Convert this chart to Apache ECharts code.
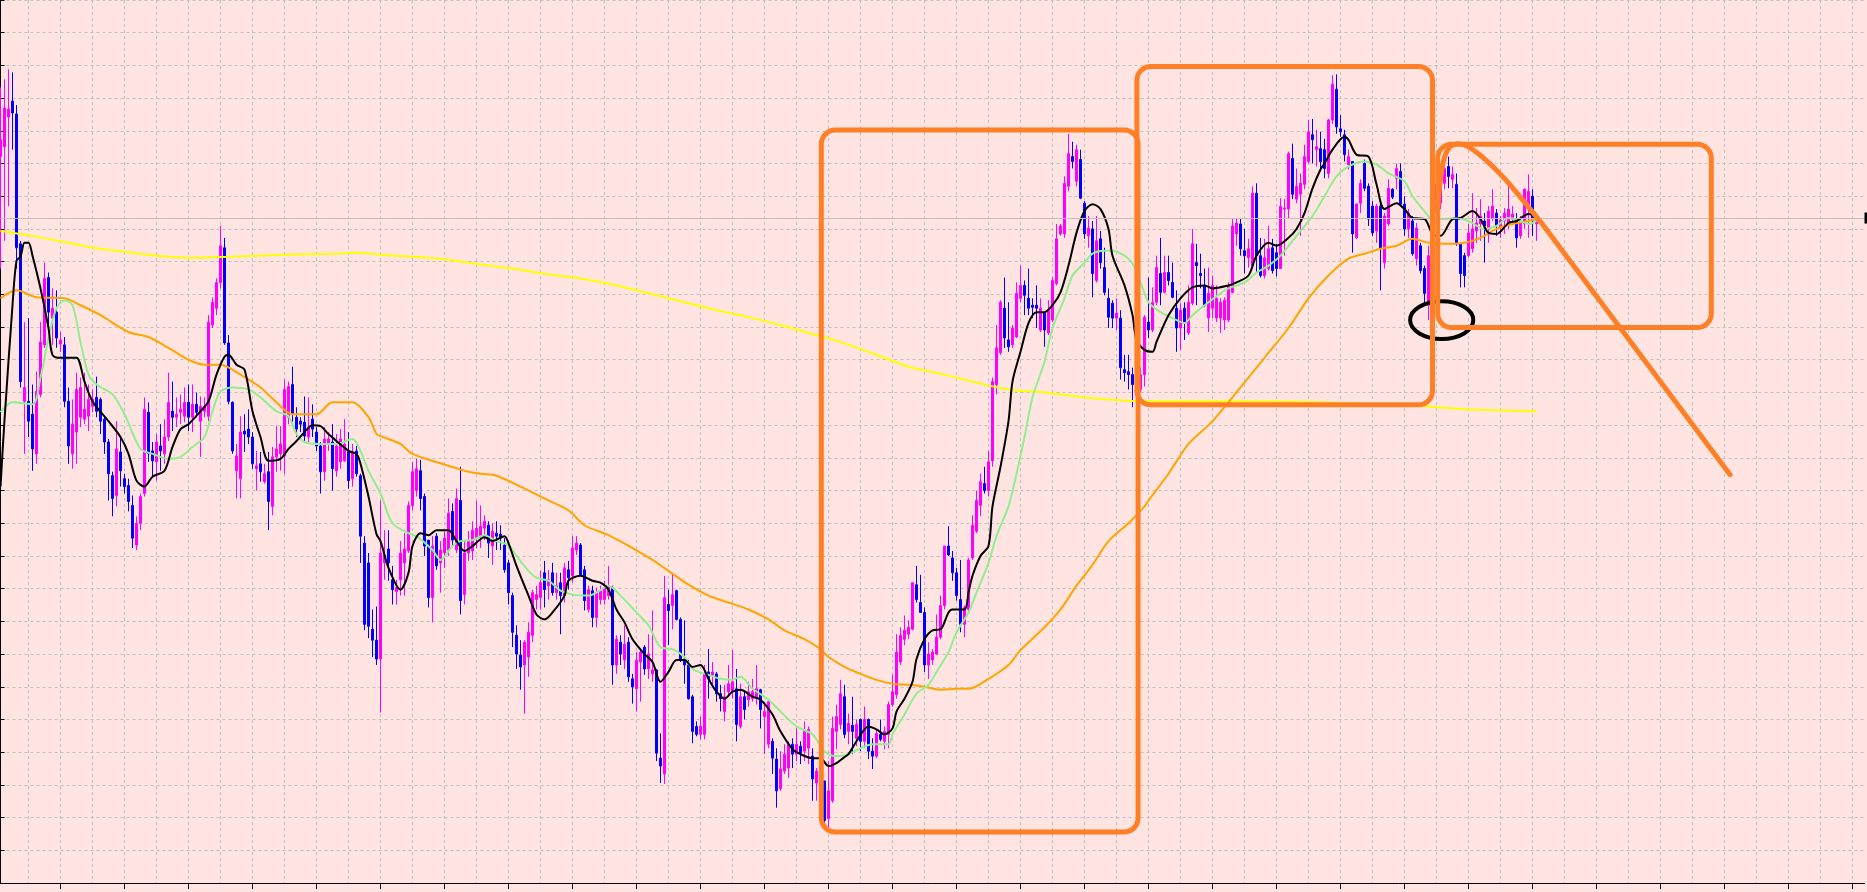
<!DOCTYPE html>
<html><head><meta charset="utf-8">
<script src="https://cdn.jsdelivr.net/npm/echarts@6/dist/echarts.min.js"></script>
<style>html,body{margin:0;padding:0;background:#FFE4E1;overflow:hidden}#c{width:1867px;height:892px}</style>
</head><body><div id="c"></div>
<script>
// Candles: [open, close, low, high]
const candles = [
[733,750,620,803],[743,782,648,811],[773,781,683,821],[789,777,740,818],[776,641,620,785],
[645,506,500,648],[486,500,433,566],[486,466,450,570],[473,438,416,503],[433,496,423,516],
[493,546,490,566],[543,610,540,626],[611,576,556,616],[570,580,543,600],[576,550,540,598],
[544,548,536,556],[543,486,480,551],[486,441,423,500],[433,463,418,488],[455,498,423,515],
[470,500,460,510],[468,478,463,515],[471,488,456,503],[481,488,475,498],[490,476,470,511],
[488,466,453,490],[468,445,433,471],[445,413,386,448],[411,388,370,415],[391,438,380,466],
[435,416,400,450],[408,400,393,413],[401,385,375,408],[381,348,338,391],[341,363,336,370],
[363,390,356,393],[393,478,390,490],[475,433,425,485],[436,426,410,445],[425,445,406,453],
[441,436,416,463],[433,450,423,468],[450,485,446,515],[476,470,456,506],[470,473,460,490],
[475,478,463,493],[471,485,465,500],[485,470,456,503],[470,483,455,503],[483,475,470,495],
[466,481,430,491],[476,481,470,490],[471,566,466,573],[563,586,560,591],[580,606,573,610],
[606,643,600,663],[641,545,543,651],[545,486,483,553],[485,436,433,486],[416,431,388,443],
[408,455,388,471],[456,453,435,473],[458,450,443,478],[450,423,418,455],[418,421,396,436],
[423,415,405,435],[405,413,403,423],[415,385,356,435],[380,430,371,440],[430,438,415,461],
[433,443,416,461],[431,498,413,508],[470,501,463,506],[503,473,465,521],[470,458,450,480],
[466,463,455,470],[465,451,445,491],[450,460,443,490],[468,458,450,483],[455,441,436,460],
[441,415,393,445],[415,448,406,460],[443,448,436,455],[445,418,396,463],[416,441,410,453],
[425,448,418,458],[426,443,425,468],[435,406,398,455],[408,435,400,443],[436,413,410,441],
[411,350,323,413],[343,261,255,350],[323,259,247,333],[256,245,228,276],[245,226,220,279],
[226,333,172,386],[323,331,306,356],[337,323,305,356],[306,296,281,320],[294,298,281,306],
[306,333,290,345],[323,337,290,353],[335,381,333,385],[381,415,376,425],[396,418,390,428],
[416,388,376,427],[390,340,330,393],[346,288,278,346],[288,340,263,350],[350,320,316,353],
[323,336,293,345],[333,348,318,355],[336,373,330,388],[375,346,340,383],[336,388,333,398],
[386,285,271,420],[291,333,281,346],[333,346,325,355],[335,356,326,365],[348,358,338,386],
[350,360,338,381],[358,365,346,371],[361,343,328,365],[340,355,321,363],[353,350,336,365],
[352,348,336,361],[341,316,313,348],[323,293,281,326],[290,253,238,293],[250,231,216,260],
[230,218,195,245],[220,243,171,245],[228,253,208,263],[250,293,243,296],[286,291,276,300],
[288,303,276,315],[313,296,278,325],[300,306,286,316],[313,293,290,323],[293,300,286,313],
[303,290,251,313],[290,318,283,323],[316,308,296,325],[310,338,303,350],[336,343,331,350],
[341,311,310,343],[316,285,275,320],[276,296,273,300],[295,268,258,300],[268,293,258,298],
[286,295,281,300],[286,298,281,305],[290,300,286,320],[298,220,200,300],[220,246,211,250],
[243,231,220,250],[225,241,216,260],[243,208,203,248],[206,198,181,211],[196,225,173,233],
[223,233,183,235],[238,216,210,240],[216,231,206,251],[211,215,203,275],[215,131,123,216],
[126,118,101,151],[110,288,100,310],[281,275,240,296],[280,291,256,313],[295,266,265,296],
[266,226,223,268],[226,220,201,265],[220,186,185,225],[188,153,141,190],[158,150,148,163],
[150,158,145,168],[150,211,145,220],[213,206,186,236],[210,213,200,223],[211,191,183,213],
[191,186,173,200],[173,188,163,200],[193,201,190,220],[193,203,186,235],[196,160,143,216],
[158,188,156,201],[188,175,165,193],[185,193,178,203],[186,193,183,206],[188,196,180,220],
[195,175,156,196],[168,173,130,183],[140,183,136,183],[143,126,110,146],[125,93,76,136],
[95,115,93,133],[113,130,110,140],[116,140,106,143],[140,130,116,146],[130,140,123,156],
[138,131,120,143],[133,153,123,163],[136,155,120,158],[128,105,83,136],[101,113,83,116],
[100,80,75,105],[103,63,60,103],[65,93,56,123],[83,156,81,168],[153,168,135,180],
[160,191,155,205],[188,150,146,200],[153,161,140,171],[159,153,130,188],[146,160,138,165],
[165,143,133,166],[143,165,136,178],[165,133,125,166],[133,128,115,146],[128,151,126,155],
[150,145,143,165],[143,153,135,158],[150,180,136,183],[180,193,178,210],[190,233,186,251],
[223,250,220,258],[246,255,240,270],[251,258,246,265],[256,303,255,303],[301,286,283,320],
[283,273,273,311],[273,220,213,278],[220,231,206,243],[225,233,220,236],[231,248,230,271],
[248,280,246,290],[280,340,276,340],[340,331,330,360],[328,313,305,335],[313,290,285,318],
[286,261,253,326],[261,278,248,280],[276,326,273,328],[328,361,326,371],[355,386,353,396],
[381,405,370,413],[403,396,393,420],[396,425,390,436],[426,506,420,510],[503,540,493,563],
[535,586,533,588],[580,550,540,611],[548,541,536,586],[543,560,540,563],[551,595,550,606],
[590,603,586,623],[603,593,573,608],[590,580,573,620],[583,581,570,590],[583,580,560,603],
[558,580,556,590],[575,558,541,576],[555,578,553,588],[568,608,566,611],[605,650,603,665],
[655,663,653,665],[655,706,651,713],[703,736,698,756],[733,728,721,748],[708,740,703,745],
[730,691,690,740],[686,655,650,688],[653,661,641,673],[660,615,591,668],[608,648,606,673],
[650,626,620,658],[621,596,593,641],[590,571,560,600],[585,570,560,588],[570,575,558,590],
[570,520,508,578],[518,515,506,533],[516,513,498,533],[513,503,480,520],[503,498,490,510],
[498,513,495,520],[513,571,501,573],[566,558,550,611],[558,586,556,601],[586,621,583,633],
[615,596,583,651],[596,616,595,633],[616,608,603,633],[606,591,590,626],[580,560,536,598],
[560,578,538,585],[580,565,548,586],[555,586,553,603],[585,645,583,660],[626,623,583,645],
[615,613,600,635],[603,583,581,620],[570,595,556,621],[580,603,570,613],[570,590,566,603],
[570,586,555,590],[568,588,558,591],[568,603,566,606],[596,663,595,670],[655,666,643,671],
[665,640,633,670],[638,633,615,660],[631,640,621,650],[623,696,620,703],[696,633,616,706],
[633,613,611,651],[613,631,610,650],[620,640,618,663],[641,618,615,650],[636,620,612,645],
[620,683,620,691],[680,681,633,690],[680,736,670,738],[731,695,690,746],[690,703,686,721],
[695,706,653,716],[705,733,700,745],[728,758,726,770],[755,750,726,771],[740,743,723,760],
[741,728,720,758],[740,721,711,751],[716,770,711,771],[770,806,766,815],[801,763,756,816],
[761,758,753,775],[755,735,728,760],[725,733,720,740],[728,655,636,728],[651,685,650,686],
[686,706,676,710],[726,701,698,730],[703,670,663,706],[683,656,653,688],[658,683,646,685],
[683,640,598,686],[626,673,620,676],[665,701,663,710],[700,692,690,701],[711,721,700,726],
[718,685,683,726],[685,660,653,693],[660,676,651,680],[668,635,633,673],[630,661,623,666],
[643,618,615,646],[620,595,585,623],[583,633,568,643],[633,690,630,700],[690,705,680,715],
[686,705,680,710],[706,721,700,736],[723,713,701,733],[710,715,701,723],[705,645,643,716],
[645,615,601,646],[633,613,601,636],[633,656,631,665],[640,660,636,696],[658,666,646,681],
[665,673,648,690],[668,663,626,676],[660,678,646,683],[670,683,668,700],[676,663,653,680],
[661,669,651,673],[668,676,655,681],[666,680,660,705],[670,675,666,683],[670,651,641,676],
[653,668,650,673],[665,700,660,701],[680,698,651,715],[693,668,653,700],[665,671,648,675]
];

// Moving averages: [barIndex, value]
const maBlack = [[0,400],[1,467],[3,583],[4,628],[5,632],[6,646],[7,646],[8,633],[10,600],[12,560],[13,533],[15,530],[17,530],[19,530],[21,506],[23,486],[27,466],[30,450],[32,433],[34,406],[36,400],[38,410],[41,416],[43,440],[45,458],[47,463],[50,476],[52,486],[54,513],[56,531],[57,533],[59,523],[61,518],[63,476],[65,450],[67,426],[70,428],[72,438],[74,446],[76,455],[78,462],[80,461],[82,453],[84,446],[87,436],[89,433],[90,423],[92,390],[94,352],[95,345],[97,318],[100,296],[102,313],[103,340],[105,353],[107,351],[109,356],[112,356],[114,345],[116,335],[118,340],[121,349],[123,345],[126,350],[127,343],[129,320],[132,290],[134,271],[136,266],[138,273],[141,290],[142,305],[145,310],[148,305],[150,303],[152,296],[154,276],[156,263],[158,246],[161,231],[163,223],[165,203],[167,213],[169,225],[171,225],[173,218],[175,220],[177,206],[179,193],[181,186],[183,193],[185,195],[188,188],[190,185],[193,170],[195,153],[198,135],[200,130],[203,126],[205,126],[207,118],[209,121],[211,127],[212,130],[214,143],[217,158],[219,155],[221,150],[223,156],[224,173],[226,186],[228,203],[229,226],[231,246],[233,255],[235,256],[237,273],[238,276],[241,276],[242,293],[243,310],[245,330],[247,340],[248,380],[250,420],[252,466],[253,506],[255,536],[257,565],[259,576],[261,576],[263,583],[265,596],[267,623],[269,656],[271,678],[273,685],[275,680],[277,660],[278,633],[281,603],[283,573],[284,548],[286,538],[288,536],[289,546],[292,573],[295,590],[298,601],[301,603],[303,600],[307,603],[309,606],[312,613],[314,633],[317,646],[319,643],[322,651],[324,660],[326,676],[328,701],[330,720],[331,726],[333,740],[336,753],[337,750],[339,735],[342,733],[344,705],[346,680],[349,686],[351,680],[353,671],[356,670],[358,655],[360,653],[363,670],[365,671],[368,678],[370,670],[372,656],[374,655],[377,666],[379,668],[382,675],[384,673]];
const maGreen = [[0,475],[3,485],[8,483],[10,510],[12,550],[14,580],[16,588],[18,583],[20,546],[22,513],[24,503],[28,493],[31,473],[35,438],[38,433],[42,428],[45,430],[48,440],[51,450],[53,476],[55,496],[58,500],[62,498],[65,490],[69,476],[72,471],[74,453],[76,445],[80,443],[84,443],[88,448],[90,436],[92,416],[95,393],[98,363],[102,353],[104,350],[108,336],[110,326],[113,340],[115,345],[118,346],[121,351],[124,345],[127,341],[129,330],[132,315],[134,308],[137,305],[140,295],[143,291],[147,290],[149,293],[152,300],[155,290],[159,273],[162,260],[165,238],[168,236],[171,228],[173,216],[177,210],[180,206],[183,205],[185,208],[188,196],[192,185],[195,173],[199,158],[203,150],[206,133],[209,128],[212,130],[215,136],[218,140],[222,140],[223,150],[226,170],[229,191],[232,200],[234,213],[237,233],[239,253],[242,273],[244,293],[247,323],[249,350],[252,380],[254,413],[256,450],[258,490],[261,526],[263,560],[266,590],[268,613],[271,626],[273,635],[276,638],[278,638],[281,633],[283,625],[285,606],[287,586],[290,576],[293,570],[296,565],[298,573],[302,586],[305,595],[307,600],[311,606],[314,616],[317,623],[320,633],[324,653],[328,673],[331,693],[334,713],[337,723],[341,728],[344,725],[347,716],[351,708],[353,693],[356,678],[358,670],[361,670],[364,671],[367,668],[371,660],[374,663],[377,671],[380,668],[382,665],[384,668]];
const maOrange = [[0,590],[4,598],[9,591],[16,590],[20,583],[25,573],[32,556],[37,551],[42,540],[47,528],[51,523],[55,523],[60,513],[65,500],[69,485],[73,473],[79,473],[83,485],[88,485],[92,470],[94,453],[95,451],[100,443],[103,433],[112,421],[116,416],[120,413],[124,411],[130,400],[137,386],[142,376],[146,361],[152,351],[158,338],[163,326],[167,315],[172,301],[177,290],[182,283],[187,276],[192,266],[196,255],[201,246],[205,236],[207,228],[211,218],[215,211],[219,205],[223,201],[227,200],[231,198],[235,195],[239,196],[242,196],[247,206],[252,220],[255,235],[261,258],[265,276],[269,300],[273,321],[277,345],[282,363],[286,380],[287,386],[292,413],[297,443],[303,466],[310,500],[316,530],[322,560],[327,590],[332,613],[337,630],[341,635],[345,640],[349,643],[353,650],[357,646],[362,645],[366,646],[370,651],[374,660],[378,665],[382,668],[384,670]];
const maYellow = [[0,658],[8,653],[17,646],[25,640],[33,636],[39,633],[47,631],[57,632],[71,634],[83,635],[89,636],[95,634],[103,632],[112,629],[120,624],[128,620],[137,614],[145,610],[153,604],[162,595],[170,587],[178,579],[187,571],[195,563],[203,554],[210,546],[219,533],[227,521],[236,513],[244,505],[252,498],[261,495],[269,491],[277,488],[286,486],[307,486],[329,485],[356,481],[366,478],[384,476]];

// Hand-drawn annotations in chart units: [barFrom, valueBottom, barTo, valueTop]
const annoBoxes = [[205.2,51.5,284.4,759.7],[284.1,482.5,358.0,824],[359.3,560.5,427.7,745.5]];
const annoEllipse = [[360.3,568,7.9,19]]; // center bar, center value, radius in bars, radius in value
const annoCurve = [[359.2,678],[359.9,708],[360.9,731],[362.4,743],[364.4,746],[366.9,743],[371.2,730],[376.2,710],[381.2,686],[386.2,661],[432.4,412]];

const NCAT = 467;
const categories = [];
for (let i = 0; i < NCAT; i++) categories.push('B' + i);
const lastClose = candles[candles.length - 1][1];

const chart = echarts.init(document.getElementById('c'), null, {renderer: 'canvas'});
const orange = '#FF7F27';
function maSeries(data, color, width) {
  return {type: 'line', xAxisIndex: 0, yAxisIndex: 0, data: data, showSymbol: false, symbol: 'none',
    smooth: 0.3, lineStyle: {color: color, width: width}, z: 3, silent: true};
}
chart.setOption({
  backgroundColor: '#FFE4E1',
  animation: false,
  grid: {left: 0.5, right: 2.5, top: -8, bottom: 9, containLabel: false},
  xAxis: [{
    type: 'category', data: categories, boundaryGap: false, offset: 3,
    axisLine: {show: true, lineStyle: {color: '#000', width: 1}},
    axisTick: {show: true, interval: function (i) { return i % 16 === 15; }, length: 6, lineStyle: {color: '#000'}},
    axisLabel: {show: false},
    splitLine: {show: true, interval: function (i) { return i % 8 === 7; }, lineStyle: {color: '#C0C0C0', type: [3, 3], width: 1}}
  }, {
    type: 'value', min: 0, max: NCAT - 1, show: false, position: 'bottom'
  }],
  yAxis: {
    type: 'value', position: 'right', min: 0, max: 891, interval: 33, scale: false,
    axisLine: {show: true, lineStyle: {color: '#000', width: 1}},
    axisTick: {show: true, inside: false, length: 4, lineStyle: {color: '#000'}},
    axisLabel: {show: false},
    splitLine: {show: true, lineStyle: {color: '#C0C0C0', type: [3, 3], width: 1}}
  },
  series: [
    {
      type: 'candlestick', xAxisIndex: 0, yAxisIndex: 0, data: candles, barWidth: 1.8, z: 2, silent: true,
      itemStyle: {color: '#FF00FF', color0: '#0000FF', borderColor: '#FF00FF', borderColor0: '#0000FF', borderWidth: 1},
      markLine: {
        silent: true, symbol: ['none', 'none'], animation: false,
        lineStyle: {color: '#C0C0C0', type: 'solid', width: 1},
        label: {show: true, position: 'end', distance: 0, formatter: ' ', fontSize: 7, backgroundColor: '#000', padding: [2, 3]},
        data: [{yAxis: lastClose}]
      }
    },
    maSeries(maYellow, '#FFFF00', 2),
    maSeries(maOrange, '#FFA500', 2),
    maSeries(maGreen, '#90EE90', 2),
    maSeries(maBlack, '#000000', 2),
    {
      type: 'custom', xAxisIndex: 1, yAxisIndex: 0, data: annoEllipse, z: 10, silent: true,
      renderItem: function (params, api) {
        const c = api.coord([api.value(0), api.value(1)]);
        const s = api.size([api.value(2), api.value(3)]);
        return {type: 'ellipse', shape: {cx: c[0], cy: c[1], rx: s[0], ry: s[1]},
          style: {fill: null, stroke: '#000', lineWidth: 4}};
      }
    },
    {
      type: 'custom', xAxisIndex: 1, yAxisIndex: 0, data: annoBoxes, z: 11, silent: true,
      renderItem: function (params, api) {
        const a = api.coord([api.value(0), api.value(3)]);
        const b = api.coord([api.value(2), api.value(1)]);
        return {type: 'rect', shape: {x: a[0], y: a[1], width: b[0] - a[0], height: b[1] - a[1], r: 14},
          style: {fill: null, stroke: orange, lineWidth: 5}};
      }
    },
    {
      type: 'line', xAxisIndex: 1, yAxisIndex: 0, data: annoCurve, showSymbol: false, symbol: 'none',
      smooth: 0.25, z: 12, silent: true, lineStyle: {color: orange, width: 5, cap: 'round'}
    }
  ]
});
</script>
</body></html>
